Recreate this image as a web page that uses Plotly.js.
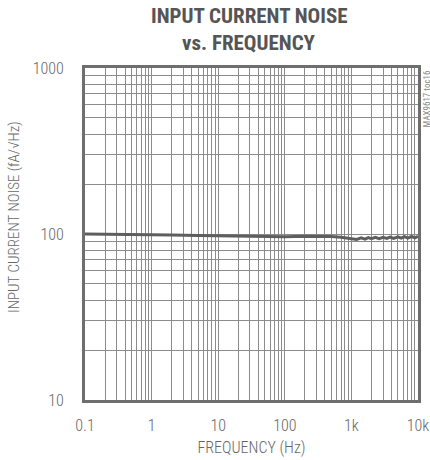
<!DOCTYPE html>
<html>
<head>
<meta charset="utf-8">
<script src="https://cdn.plot.ly/plotly-3.0.1.min.js"></script>
<style>html,body{margin:0;padding:0;background:#fff;}#chart{width:430px;height:460px;}</style>
</head>
<body>
<div id="chart"></div>
<script>
// Frequency (Hz)
var freq = [0.1, 0.2, 0.5, 1, 2, 5, 10, 20, 50, 100, 200, 300, 500, 700, 1000,
            1200, 1400, 1600, 1800, 2000, 2300, 2600, 3000, 3400, 3800, 4300,
            5000, 5600, 6300, 7000, 8000, 9000, 10000];
// Input current noise (fA/sqrt(Hz))
var noise = [100, 99.8, 99.3, 99, 98.5, 97.8, 97.3, 97, 96.5, 96.3, 96.8, 97, 96.5, 95.6, 94.3,
             92.8, 94.8, 93.2, 95.2, 93.6, 95.4, 93.6, 95.6, 94, 95.8, 94,
             96, 94.3, 96.3, 94.5, 96.6, 94.8, 97];

var xDecades = [0.1, 1, 10, 100, 1000, 10000];
var xDecadeLabels = ["0.1", "1", "10", "100", "1k", "10k"];
var yDecades = [10, 100, 1000];
var yDecadeLabels = ["10", "100", "1000"];

function gridVals(decades, labels) {
  var vals = [], txt = [];
  for (var i = 0; i < decades.length; i++) {
    vals.push(decades[i]); txt.push(labels[i]);
    if (i < decades.length - 1) {
      for (var m = 2; m <= 9; m++) { vals.push(decades[i] * m); txt.push(""); }
    }
  }
  return {vals: vals, txt: txt};
}
var xg = gridVals(xDecades, xDecadeLabels);
var yg = gridVals(yDecades, yDecadeLabels);

var FAM = "Roboto Condensed, DejaVu Sans Condensed, Roboto, sans-serif";
var tickFont = {family: FAM, size: 16, color: "#666", weight: 300, stretch: "condensed"};

var trace = {
  x: freq, y: noise, type: "scatter", mode: "lines",
  line: {color: "#5e5e5e", width: 3},
  hoverinfo: "skip"
};

var eps = 1e-5;
var layout = {
  width: 430, height: 460,
  margin: {l: 85, r: 12, t: 68, b: 60},
  paper_bgcolor: "#fff", plot_bgcolor: "#fff",
  showlegend: false,
  xaxis: {
    type: "log", range: [-1 - eps, 4 + eps],
    tickvals: xg.vals, ticktext: xg.txt,
    showgrid: true, gridcolor: "#8c8c8c", gridwidth: 1,
    ticks: "", ticklabelstandoff: 9,
    showline: true, linecolor: "#6e6e6e", linewidth: 3, mirror: true,
    zeroline: false, tickfont: tickFont,
    title: {text: "FREQUENCY (Hz)", font: tickFont, standoff: 8}
  },
  yaxis: {
    type: "log", range: [1 - eps, 3 + eps],
    tickvals: yg.vals, ticktext: yg.txt,
    showgrid: true, gridcolor: "#8c8c8c", gridwidth: 1,
    ticks: "", ticklabelstandoff: 15,
    showline: true, linecolor: "#6e6e6e", linewidth: 3, mirror: true,
    zeroline: false, tickfont: tickFont
  },
  annotations: [
    {
      text: "INPUT CURRENT NOISE",
      xref: "paper", yref: "paper",
      x: (249 - 85) / 333, y: (400 - 16) / 332,
      xanchor: "center", yanchor: "middle", showarrow: false,
      font: {family: FAM, size: 21, color: "#555", weight: "bold", stretch: "condensed"}
    },
    {
      text: "vs. FREQUENCY",
      xref: "paper", yref: "paper",
      x: (249 - 85) / 333, y: (400 - 43) / 332,
      xanchor: "center", yanchor: "middle", showarrow: false,
      font: {family: FAM, size: 21, color: "#555", weight: "bold", stretch: "condensed"}
    },
    {
      text: "INPUT CURRENT NOISE (fA/√Hz)",
      xref: "paper", yref: "paper",
      x: (14 - 85) / 333, y: (400 - 217) / 332,
      xanchor: "center", yanchor: "middle",
      textangle: -90, showarrow: false,
      font: {family: FAM, size: 15, color: "#666", weight: 300, stretch: "condensed"}
    },
    {
      text: "MAX9617 toc16",
      xref: "paper", yref: "paper",
      x: (426 - 85) / 333, y: 1,
      xanchor: "center", yanchor: "top",
      textangle: -90, showarrow: false,
      font: {family: FAM, size: 9, color: "#888", stretch: "condensed"}
    }
  ]
};

Plotly.newPlot("chart", [trace], layout, {displayModeBar: false, staticPlot: true});
</script>
</body>
</html>
